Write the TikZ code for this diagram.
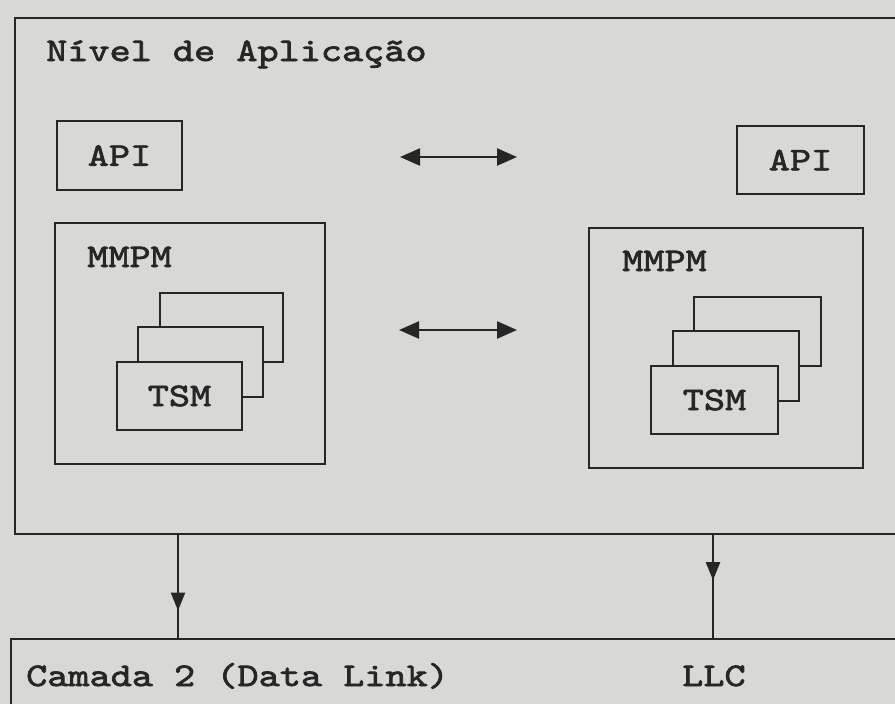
\documentclass[tikz,border=0pt]{standalone}
\usepackage{fontspec}
\newfontfamily\cour{lmmono10-regular.otf}[FakeStretch=1.22, FakeBold=2.2]
\usetikzlibrary{arrows.meta,decorations.markings}
\definecolor{paper}{RGB}{216,216,213}
\definecolor{ink}{RGB}{38,38,38}
\begin{document}
\begin{tikzpicture}[x=1pt,y=-1pt,
  box/.style={draw=ink, line width=2.2pt, rectangle, inner sep=0pt, outer sep=0pt, fill=paper, anchor=north west},
  txt/.style={font=\cour\fontsize{33}{35}\selectfont, text=ink},
  lbl/.style={txt, inner sep=0pt, anchor=base west},
  biarr/.style={draw=ink, line width=2.4pt, {Triangle[length=20pt,width=17pt]}-{Triangle[length=20pt,width=17pt]}},
  downarr/.style={draw=ink, line width=2.2pt, decoration={markings, mark=at position #1 with {\arrow{Triangle[length=18pt,width=14pt]}}}, postaction={decorate}},
]
\useasboundingbox (0,0) rectangle (895,704);
\fill[paper] (0,0) rectangle (895,704);
\clip (0,0) rectangle (895,704);

% outer boxes
\node[box, minimum width=930pt, minimum height=516pt] (app) at (15,18) {};
\node[box, minimum width=930pt, minimum height=100pt] (camada) at (11,639) {};
\node[lbl] (apptitle) at (46,61) {Nível de Aplicação};
\node[lbl] (camtext) at (26,686) {Camada 2 (Data Link)};
\node[lbl] (llc) at (682,686) {LLC};

% left side
\node[box, txt, minimum width=125pt, minimum height=69pt] (apiL) at (57,121) {API};
\node[box, minimum width=270pt, minimum height=241pt] (mmpmL) at (55,223) {};
\node[lbl] (mmpmLt) at (87,267) {MMPM};
\node[box, minimum width=123pt, minimum height=69pt] (tsmL3) at (160,293) {};
\node[box, minimum width=125pt, minimum height=70pt] (tsmL2) at (138,327) {};
\node[box, txt, minimum width=125pt, minimum height=68pt] (tsmL) at (117,362) {TSM};

% right side
\node[box, txt, minimum width=127pt, minimum height=68pt] (apiR) at (737,126) {API};
\node[box, minimum width=274pt, minimum height=240pt] (mmpmR) at (589,228) {};
\node[lbl] (mmpmRt) at (622,271) {MMPM};
\node[box, minimum width=127pt, minimum height=69pt] (tsmR3) at (694,297) {};
\node[box, minimum width=126pt, minimum height=70pt] (tsmR2) at (673,331) {};
\node[box, txt, minimum width=127pt, minimum height=68pt] (tsmR) at (651,366) {TSM};

% horizontal double arrows
\coordinate (a1) at (400,157);
\coordinate (b1) at (517,157);
\coordinate (a2) at (399,330);
\coordinate (b2) at (517,330);
\draw[biarr] (a1) -- (b1);
\draw[biarr] (a2) -- (b2);

% vertical arrows
\coordinate (vL) at (178,0);
\coordinate (vR) at (713,0);
\draw[downarr=0.73] (app.south -| vL) -- (camada.north -| vL);
\draw[downarr=0.44] (app.south -| vR) -- (camada.north -| vR);
\end{tikzpicture}
\end{document}
